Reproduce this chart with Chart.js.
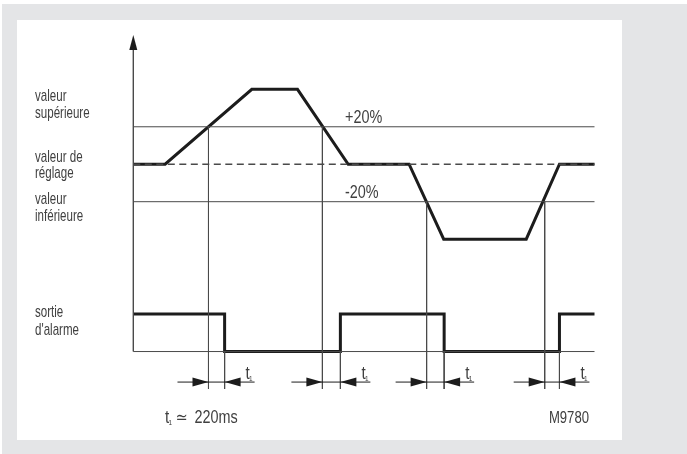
<!DOCTYPE html>
<html>
<head>
<meta charset="utf-8">
<script src="https://cdn.jsdelivr.net/npm/chart.js@4.4.1/dist/chart.umd.min.js"></script>
<style>
    html, body { margin: 0; padding: 0; background: #ffffff; }
    #fond { position: absolute; left: 2px; top: 4px; width: 685px; height: 450px; background: #e4e5e7; }
    #feuille { position: absolute; left: 17px; top: 20px; width: 605px; height: 420px; background: #ffffff; }
    #graphique { position: absolute; left: 0; top: 0; }
</style>
</head>
<body>
<div id="fond"></div>
<div id="feuille"></div>
<canvas id="graphique" width="687" height="454"></canvas>
<script>
// =======================
// DONNÉES
// =======================

// mesure (temps en unités arbitraires, 0 = axe)
const tempsMesure  = [0, 6.9, 25.7, 35.6, 46.6, 59.8, 67.3, 85.2, 92.4, 100];
const valeurMesure = [100, 100, 140, 140, 100, 100, 60, 60, 100, 100];

// sortie d'alarme (1 = active)
const tempsAlarme = [0, 19.8, 44.9, 67.4, 92.4, 100];
const etatAlarme  = [1, 0, 1, 0, 1, 1];

// franchissements des seuils
const tempsSeuil  = [16.3, 41.0, 63.6, 89.2];
const niveauSeuil = [120, 120, 80, 80];

// seuils
const seuils      = [120, 80];
const seuilLabels = ["+20%", "-20%"];
const CONSIGNE    = 100;

// niveaux de la sortie
const ALARME_BAS  = 0;
const ALARME_HAUT = 20;

// étendue
const T_MAX  = 100;
const Y_BAS  = -20;
const Y_HAUT = 169;
const Y_COTE = -16.3;

// =======================
// STYLES
// =======================

const NOIR   = "#1c1c1c";
const GRIS   = "#4a4a4a";
const TEXTE  = "#404040";
const POLICE = "'Liberation Sans', Arial, sans-serif";
const ETROIT = 0.8;   // police condensée

function ligne(points, couleur, largeur, tirets)
{
    return {
        data: points,
        showLine: true,
        borderColor: couleur,
        borderWidth: largeur,
        borderDash: tirets || [],
        pointRadius: 0,
        clip: false,
        borderCapStyle: "butt",
        borderJoinStyle: "miter"
    };
}

// segments séparés par des trous
function segments(liste)
{
    const pts = [];
    liste.forEach((s, i) =>
    {
        if (i > 0) pts.push({ x: s[0].x, y: null });
        pts.push(s[0], s[1]);
    });
    return pts;
}

// =======================
// JEUX DE DONNÉES
// =======================

const mesure = tempsMesure.map((t, i) => ({ x: t, y: valeurMesure[i] }));

const alarme = tempsAlarme.map((t, i) => ({
    x: t,
    y: etatAlarme[i] ? ALARME_HAUT : ALARME_BAS
}));

const lignesSeuil = segments(
    seuils.map(s => [{ x: 0, y: s }, { x: T_MAX, y: s }])
        .concat([[{ x: 0, y: ALARME_BAS }, { x: T_MAX, y: ALARME_BAS }]])
);

const reperes = segments(
    tempsSeuil.map((t, i) => [{ x: t, y: niveauSeuil[i] }, { x: t, y: Y_BAS }])
        .concat(tempsAlarme.slice(1, 5).map(t => [{ x: t, y: ALARME_BAS }, { x: t, y: Y_BAS }]))
);

const axe = [{ x: 0, y: ALARME_BAS }, { x: 0, y: Y_HAUT - 4 }];

const consigne = [{ x: 0, y: CONSIGNE }, { x: T_MAX, y: CONSIGNE }];

// =======================
// DESSINS ANNEXES
// =======================

function fleche(ctx, x, y, dir, long, demi)
{
    // dir: "haut", "droite", "gauche"
    ctx.beginPath();
    ctx.moveTo(x, y);
    if (dir === "haut") {
        ctx.lineTo(x - demi, y + long);
        ctx.lineTo(x + demi, y + long);
    } else if (dir === "droite") {
        ctx.lineTo(x - long, y - demi);
        ctx.lineTo(x - long, y + demi);
    } else {
        ctx.lineTo(x + long, y - demi);
        ctx.lineTo(x + long, y + demi);
    }
    ctx.closePath();
    ctx.fill();
}

function texte(ctx, str, x, y, taille, align, police, etroit)
{
    const k = etroit || ETROIT;
    ctx.save();
    ctx.font = taille + "px " + (police || POLICE);
    ctx.textAlign = align || "left";
    ctx.textBaseline = "alphabetic";
    ctx.scale(k, 1);
    ctx.fillText(str, x / k, y);
    ctx.restore();
}

const annexes = {
    id: "annexes",
    afterDatasetsDraw(chart)
    {
        const ctx = chart.ctx;
        const sx = chart.scales.x;
        const sy = chart.scales.y;

        ctx.save();
        ctx.fillStyle = NOIR;
        ctx.strokeStyle = NOIR;

        // flèche de l'axe
        fleche(ctx, sx.getPixelForValue(0), sy.getPixelForValue(Y_HAUT), "haut", 15, 4);

        // cotes t1
        const yc = sy.getPixelForValue(Y_COTE);
        ctx.lineWidth = 1;
        tempsSeuil.forEach((t, i) =>
        {
            const xa = sx.getPixelForValue(t);
            const xb = sx.getPixelForValue(tempsAlarme[i + 1]);

            ctx.beginPath();
            ctx.moveTo(xa - 31, yc);
            ctx.lineTo(xb + 30, yc);
            ctx.stroke();

            fleche(ctx, xa, yc, "droite", 16, 4.5);
            fleche(ctx, xb, yc, "gauche", 16, 4.5);

            ctx.fillStyle = TEXTE;
            texte(ctx, "t", xb + 21, yc - 3, 19);
            texte(ctx, "1", xb + 24.5, yc - 1.5, 8);
            ctx.fillStyle = NOIR;
        });

        ctx.fillStyle = TEXTE;

        // libellés des seuils
        seuils.forEach((s, i) =>
        {
            texte(ctx, seuilLabels[i], sx.getPixelForValue(45.9), sy.getPixelForValue(s) - 3.5, 18);
        });

        // libellés à gauche
        const gauche = [
            ["valeur", 101], ["supérieure", 118],
            ["valeur de", 162], ["réglage", 178],
            ["valeur", 204], ["inférieure", 221],
            ["sortie", 317], ["d'alarme", 335]
        ];
        gauche.forEach(g => texte(ctx, g[0], 35, g[1], 17, "left", null, 0.68));

        // pied
        texte(ctx, "t", 165, 422.7, 19);
        texte(ctx, "1", 168.5, 424.5, 8);
        texte(ctx, "\u2243", 175.5, 422.5, 17, "left", "'DejaVu Sans', sans-serif", 0.85);
        texte(ctx, "220ms", 194.5, 422.7, 18);
        texte(ctx, "M9780", 589, 422.7, 16, "right", null, 0.82);

        ctx.restore();
    }
};

// =======================
// GRAPHIQUE
// =======================

const ctx = document.getElementById("graphique");

const graphique = new Chart(ctx, {
    type: "scatter",
    data: {
        datasets: [
            ligne(lignesSeuil, GRIS, 1),
            ligne(consigne, GRIS, 1.3, [7, 4.5]),
            ligne(reperes, GRIS, 1),
            ligne(axe, GRIS, 1.4),
            ligne(mesure, NOIR, 3),
            Object.assign(ligne(alarme, NOIR, 3), { stepped: "before" })
        ]
    },
    options: {
        responsive: false,
        animation: false,
        events: [],
        layout: {
            padding: { left: 133.3, right: 92.5, top: 35, bottom: 65 }
        },
        plugins: {
            legend: { display: false },
            tooltip: { enabled: false }
        },
        scales: {
            x: { type: "linear", min: 0, max: T_MAX, display: false },
            y: { type: "linear", min: Y_BAS, max: Y_HAUT, display: false }
        }
    },
    plugins: [annexes]
});
</script>
</body>
</html>
